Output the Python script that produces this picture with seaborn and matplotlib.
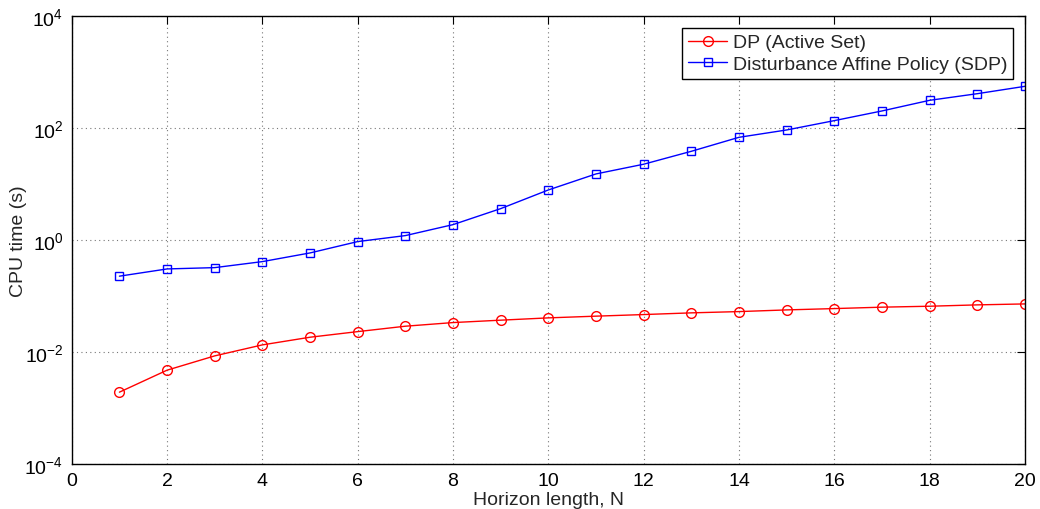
import matplotlib
matplotlib.use("Agg")
import matplotlib.pyplot as plt
import seaborn as sns
import pandas as pd
from matplotlib.ticker import NullLocator, FixedLocator

horizon = list(range(1, 21))
dp_active_set = [0.00193, 0.00477, 0.00859, 0.0135, 0.0185, 0.0233, 0.0291, 0.0338,
                 0.0373, 0.041, 0.044, 0.047, 0.0504, 0.0531, 0.0569, 0.0601,
                 0.0637, 0.0662, 0.070, 0.0728]
sdp_policy = [0.228, 0.307, 0.324, 0.415, 0.593, 0.946, 1.21, 1.90, 3.67, 7.91,
              15.3, 22.8, 38.8, 69.0, 93.3, 137.0, 204.0, 316.0, 415.0, 562.0]
series_names = ["DP (Active Set)", "Disturbance Affine Policy (SDP)"]

sns.set_theme(style="white")
plt.rcParams['font.family'] = ['Liberation Sans', 'DejaVu Sans']
plt.rcParams['mathtext.fontset'] = 'custom'
plt.rcParams['mathtext.rm'] = 'Liberation Sans'
plt.rcParams['mathtext.it'] = 'Liberation Sans:italic'

fig = plt.figure(figsize=(10.4, 5.1), dpi=100)
ax = fig.add_axes([0.069, 0.088, 0.9165, 0.878])

df_dp = pd.DataFrame({"N": horizon, "t": dp_active_set})
df_sdp = pd.DataFrame({"N": horizon, "t": sdp_policy})

sns.lineplot(data=df_dp, x="N", y="t", ax=ax, color="#ff0000", marker="o",
             markersize=7, markerfacecolor="none", markeredgecolor="#ff0000",
             markeredgewidth=1.0, linewidth=1.0, label=series_names[0])
sns.lineplot(data=df_sdp, x="N", y="t", ax=ax, color="#0000ff", marker="s",
             markersize=6, markerfacecolor="none", markeredgecolor="#0000ff",
             markeredgewidth=1.0, linewidth=1.0, label=series_names[1])

ax.set_yscale("log")
ax.set_ylim(1e-4, 1e4)
ax.set_xlim(0, 20)
ax.yaxis.set_major_locator(FixedLocator([1e-4, 1e-2, 1, 1e2, 1e4]))
ax.yaxis.set_minor_locator(NullLocator())
ax.set_xticks(range(0, 21, 2))

ax.grid(True, which="major", linestyle=(0, (1, 3)), color="#777777", linewidth=0.8)
for s in ax.spines.values():
    s.set_color("black")
    s.set_linewidth(1.0)
    s.set_visible(True)
ax.tick_params(direction="in", length=6, width=0.8, top=True, right=True,
               labelsize=14, colors="black", pad=6)
ax.set_xlabel("Horizon length, N", fontsize=14, labelpad=1)
ax.set_ylabel("CPU time (s)", fontsize=14, labelpad=-2)

leg = ax.legend(loc="upper right", fontsize=14, frameon=True, fancybox=False,
                edgecolor="black", framealpha=1, borderpad=0.3, handlelength=2.0,
                handletextpad=0.3, labelspacing=0.2, borderaxespad=0.6)
leg.get_frame().set_linewidth(1.0)

fig.savefig("out.png", dpi=100, facecolor="white")
